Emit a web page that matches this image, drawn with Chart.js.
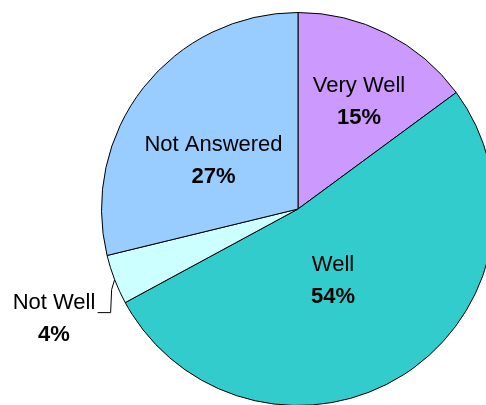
<!DOCTYPE html>
<html>
<head>
<meta charset="utf-8">
<script src="https://cdn.jsdelivr.net/npm/chart.js@4"></script>
<style>
    html, body { margin: 0; padding: 0; background: #fff; }
    body { width: 486px; height: 405px; overflow: hidden; position: relative; }
    #wrap { position: absolute; left: 0; top: 0; width: 520px; height: 420px; }
</style>
</head>
<body>
<div id="wrap"><canvas id="pieChart" width="520" height="420"></canvas></div>
<script>
const categories = ['Very Well', 'Well', 'Not Well', 'Not Answered'];
const shares = [14.9, 52.2, 4.1, 28.8];
const pctLabels = ['15%', '54%', '4%', '27%'];
const sliceColors = ['#CC99FF', '#33CCCC', '#CCFFFF', '#99CCFF'];

// where each label block sits, relative to the pie centre (px)
const labelSpots = [
    { dx: 61, dy: -108.5 },
    { dx: 35, dy: 70 },
    { dx: -244, dy: 108.5 },
    { dx: -84.5, dy: -50 }
];

const sliceLabels = {
    id: 'sliceLabels',
    afterDraw(chart) {
        const ctx = chart.ctx;
        const arcs = chart.getDatasetMeta(0).data;
        const cx = arcs[0].x, cy = arcs[0].y;
        const size = 22;
        const capMid = size * 0.716 / 2;

        ctx.save();
        ctx.fillStyle = '#000';
        ctx.textAlign = 'center';
        ctx.textBaseline = 'alphabetic';
        categories.forEach((name, i) => {
            const bx = cx + labelSpots[i].dx;
            const by = cy + labelSpots[i].dy;
            ctx.font = `${size}px "Liberation Sans", Arial, sans-serif`;
            ctx.fillText(name, bx, by - 16 + capMid);
            ctx.font = `bold ${size}px "Liberation Sans", Arial, sans-serif`;
            ctx.fillText(pctLabels[i], bx, by + 16 + capMid);
        });

        // leader line for the small "Not Well" slice
        const a = arcs[2];
        const mid = (a.startAngle + a.endAngle) / 2;
        const ax = a.x + a.outerRadius * Math.cos(mid);
        const ay = a.y + a.outerRadius * Math.sin(mid);
        ctx.strokeStyle = '#000';
        ctx.lineWidth = 1;
        ctx.beginPath();
        ctx.moveTo(ax, ay);
        ctx.lineTo(ax - 3, ay + 10);
        ctx.lineTo(ax - 4, ay + 33);
        ctx.lineTo(ax - 17, ay + 33);
        ctx.stroke();
        ctx.restore();
    }
};

new Chart(document.getElementById('pieChart'), {
    type: 'pie',
    data: {
        labels: categories,
        datasets: [{
            data: shares,
            backgroundColor: sliceColors,
            borderColor: '#000',
            borderWidth: 1
        }]
    },
    options: {
        responsive: false,
        animation: false,
        layout: { padding: { left: 101, right: 25, top: 12, bottom: 14 } },
        plugins: {
            legend: { display: false },
            tooltip: { enabled: false }
        }
    },
    plugins: [sliceLabels]
});
</script>
</body>
</html>
